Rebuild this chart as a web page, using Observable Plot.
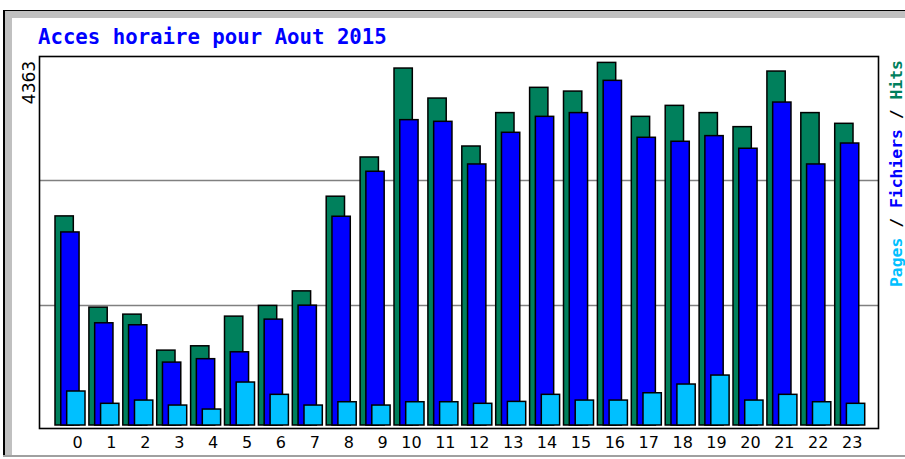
<!DOCTYPE html>
<html>
<head>
<meta charset="utf-8">
<script src="https://cdn.jsdelivr.net/npm/d3@7"></script>
<script src="https://cdn.jsdelivr.net/npm/@observablehq/plot@0.6"></script>
<style>
  body { margin: 0; background: #fff; }
  #wrap { position: relative; width: 905px; height: 459px; overflow: hidden; background: #fff; }
  .deco { position: absolute; }
  #wrap svg { position: absolute; left: 0; top: 0; max-width: none; }
</style>
</head>
<body>
<div id="wrap">
  <div class="deco" style="left:3px; top:10px; width:902px; height:1px; background:#000;"></div>
  <div class="deco" style="left:4px; top:11px; width:901px; height:7px; background:#c0c0c0;"></div>
  <div class="deco" style="left:3px; top:10px; width:2px; height:446px; background:#000;"></div>
  <div class="deco" style="left:5px; top:11px; width:7px; height:445px; background:#c0c0c0;"></div>
  <div class="deco" style="left:3px; top:455px; width:902px; height:2px; background:#a0a0a0;"></div>
</div>
<script>
// ---- data ----
const title = "Acces horaire pour Aout 2015";
const hours = [0,1,2,3,4,5,6,7,8,9,10,11,12,13,14,15,16,17,18,19,20,21,22,23];
const hits  = [2516,1418,1334,901,953,1310,1439,1614,2753,3225,4295,3934,3357,3759,4063,4018,4363,3714,3846,3759,3590,4259,3759,3630];
const files = [2323,1230,1206,757,798,881,1274,1442,2512,3053,3674,3654,3141,3522,3714,3759,4147,3462,3414,3482,3330,3886,3141,3393];
const pages = [409,261,300,240,192,517,369,240,280,240,280,280,261,284,369,300,300,388,493,601,300,369,280,261];
const gridValues = [1444, 2948];
const legendParts = [["Pages", "#00c0ff"], [" / ", "#000"], ["Fichiers", "#0000ff"], [" / ", "#000"], ["Hits", "#00805c"]];

// ---- layout / styles ----
const barW = 0.54;
const series = [
  {values: hits,  color: "#00805c", off: 0},
  {values: files, color: "#0000ff", off: 0.17},
  {values: pages, color: "#00c0ff", off: 0.345}
];
const maxHits = d3.max(hits);
const yTop = 4440;

const barMarks = series.map(s => Plot.rectY(hours.map((h, i) => ({h, v: s.values[i]})), {
  x1: d => d.h + s.off,
  x2: d => d.h + s.off + barW,
  y: "v",
  fill: s.color,
  stroke: "#000",
  strokeWidth: 1.5
}));

const chart = Plot.plot({
  width: 905,
  height: 459,
  marginLeft: 39,
  marginRight: 27,
  marginTop: 56,
  marginBottom: 31,
  style: {fontFamily: "DejaVu Sans", background: "transparent"},
  x: {domain: [-0.472, 24.277], axis: null},
  y: {domain: [0, yTop], insetBottom: 3, axis: null},
  marks: [
    Plot.ruleY(gridValues, {stroke: "#808080", strokeWidth: 1.5}),
    ...barMarks,
    Plot.frame({stroke: "#000", strokeWidth: 1.6}),
    Plot.text(hours, {
      x: d => d + 0.8, text: d => String(d), frameAnchor: "bottom", dy: 19.5,
      textAnchor: "end", fontSize: 16, fill: "#000"
    }),
    Plot.text([maxHits], {
      y: d => d, text: d => String(d), frameAnchor: "left", dx: -10, dy: -2,
      rotate: -90, textAnchor: "end", fontSize: 17, fill: "#000"
    })
  ]
});

const svg = d3.select(chart);
svg.append("text")
  .attr("x", 38).attr("y", 44)
  .attr("text-anchor", "start")
  .style("font", "bold 20.7px 'DejaVu Sans Mono'")
  .attr("fill", "#0000ff")
  .text(title);

const leg = svg.append("text")
  .attr("transform", "translate(902,287) rotate(-90)")
  .attr("text-anchor", "start")
  .style("font", "bold 16.4px 'DejaVu Sans Mono'")
  .attr("xml:space", "preserve")
  .style("white-space", "pre");
legendParts.forEach(([t, c]) => leg.append("tspan").attr("fill", c).text(t));

document.getElementById("wrap").appendChild(chart);
</script>
</body>
</html>
